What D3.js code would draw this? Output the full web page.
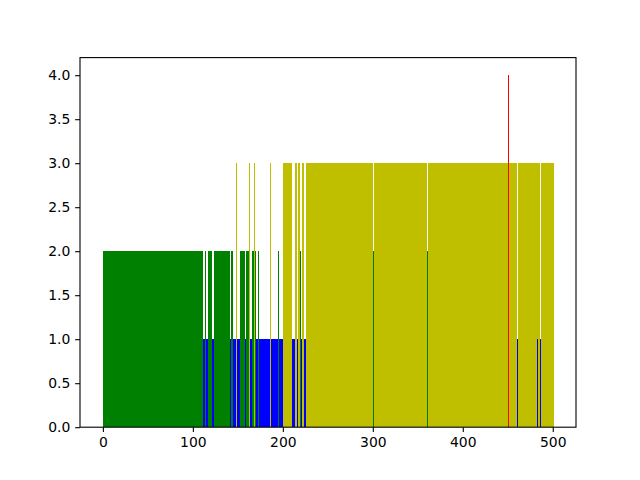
<!DOCTYPE html>
<html>
<head>
<meta charset="utf-8">
<script src="https://cdn.jsdelivr.net/npm/d3@7/dist/d3.min.js"></script>
<style>
  body { margin: 0; background: #fff; }
  .tick text { font-family: "DejaVu Sans", sans-serif; font-size: 13.9px; fill: #000; }
  .tick line { stroke: #000; stroke-width: 1.1px; }
</style>
</head>
<body>
<div id="chart"></div>
<script>
// runs of consecutive x positions sharing the same bar height
var runStart = [0, 111, 113, 115, 117, 121, 123, 141, 142, 145, 148, 149, 152, 158, 159, 162, 163, 164, 166, 168,
                169, 170, 173, 174, 186, 187, 195, 196, 200, 210, 214, 216, 217, 219, 220, 221, 222, 223, 224, 226,
                300, 301, 360, 361, 450, 451, 460, 461, 482, 483, 486, 487];
var runEnd   = [110, 112, 114, 116, 120, 122, 140, 141, 144, 147, 148, 151, 157, 158, 161, 162, 163, 165, 167, 168,
                169, 172, 173, 185, 186, 194, 195, 199, 209, 213, 215, 216, 218, 219, 220, 221, 222, 223, 225, 299,
                300, 359, 360, 449, 450, 459, 460, 481, 482, 485, 486, 500];
var runHeight = [2, 1, 2, 1, 2, 1, 2, 1, 2, 1, 3, 1, 2, 1, 2, 1, 3, 1, 2, 3,
                 2, 1, 2, 1, 3, 1, 2, 1, 3, 1, 3, 1, 3, 2, 1, 3, 1, 3, 1, 3,
                 2, 3, 2, 3, 4, 3, 1, 3, 1, 3, 1, 3];

var heightLevels = [1, 2, 3, 4];
var levelColors = ["#0000ff", "#008000", "#bfbf00", "#ff0000"];

var xTicks = [0, 100, 200, 300, 400, 500];
var yTicks = [0, 0.5, 1, 1.5, 2, 2.5, 3, 3.5, 4];

var width = 640,
    height = 480,
    plotLeft = 80, plotRight = 576,
    plotTop = 57.6, plotBottom = 427.2;

var svg = d3.select("#chart").append("svg")
    .attr("width", width)
    .attr("height", height);

var x = d3.scaleLinear()
    .domain([-25.44, 525.84])
    .range([plotLeft, plotRight]);

var y = d3.scaleLinear()
    .domain([0, 4.2])
    .range([plotBottom, plotTop]);

var color = d3.scaleOrdinal()
    .domain(heightLevels)
    .range(levelColors);

var runs = runStart.map(function(s, i) {
    return {start: s, end: runEnd[i], h: runHeight[i]};
});
// long runs first so the one-pixel bars stay on top
runs.sort(function(a, b) { return (b.end - b.start) - (a.end - a.start); });

// snap an edge to a whole pixel, like the Agg renderer does
function snapX(v) { return Math.round(x(v) + 0.4); }

svg.append("g")
    .attr("shape-rendering", "crispEdges")
    .selectAll("rect")
    .data(runs)
    .enter().append("rect")
    .attr("x", function(d) { return snapX(d.start - 0.5); })
    .attr("width", function(d) {
        return Math.max(1, snapX(d.end + 0.5) - snapX(d.start - 0.5));
    })
    .attr("y", function(d) { return Math.round(y(d.h)); })
    .attr("height", function(d) { return Math.round(y(0)) - Math.round(y(d.h)); })
    .attr("fill", function(d) { return color(d.h); });

var xAxis = svg.append("g")
    .attr("transform", "translate(0," + plotBottom + ")")
    .call(d3.axisBottom(x).tickValues(xTicks).tickFormat(d3.format("d"))
        .tickSize(4.86).tickPadding(4.86));
xAxis.select(".domain").remove();

var yAxis = svg.append("g")
    .attr("transform", "translate(" + plotLeft + ",0)")
    .call(d3.axisLeft(y).tickValues(yTicks).tickFormat(d3.format(".1f"))
        .tickSize(4.86).tickPadding(4.86));
yAxis.select(".domain").remove();

// frame
svg.append("rect")
    .attr("x", plotLeft)
    .attr("y", plotTop)
    .attr("width", plotRight - plotLeft)
    .attr("height", plotBottom - plotTop)
    .attr("fill", "none")
    .attr("stroke", "#000")
    .attr("stroke-width", 1.1);
</script>
</body>
</html>
